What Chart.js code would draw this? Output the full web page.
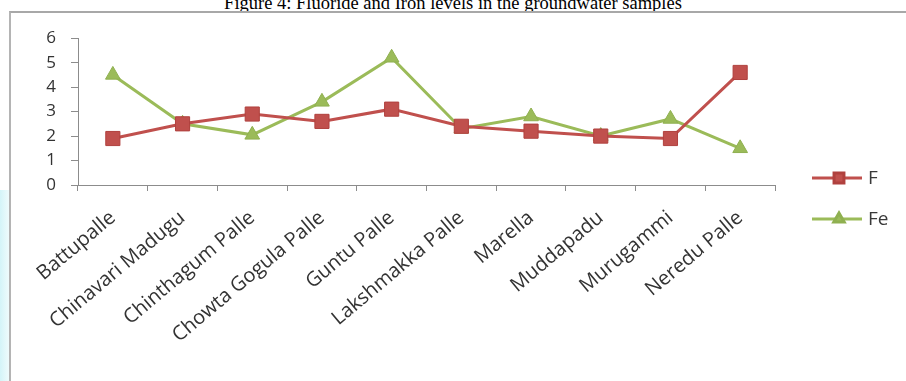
<!DOCTYPE html>
<html>
<head>
<meta charset="utf-8">
<script src="https://cdn.jsdelivr.net/npm/chart.js@4/dist/chart.umd.min.js"></script>
<style>
  html, body { margin: 0; padding: 0; background: #fff; overflow: hidden; }
  body { width: 906px; height: 381px; position: relative; }
  #title {
    position: absolute; left: 0; top: -7px; width: 906px;
    text-align: center; font: 18.5px/20px "Liberation Serif", serif; color: #000;
  }
  #frame {
    position: absolute; left: 9px; top: 11px; width: 900px; height: 372px;
    border-top: 2px solid #a8a8a8; border-left: 2px solid #b4b4b4;
    box-sizing: border-box; background: #fff;
  }
  #edge {
    position: absolute; left: 0; top: 190px; width: 9px; height: 191px;
    background: linear-gradient(to right, #d4f4f8, #effbfc);
  }
  #wrap { position: absolute; left: 11px; top: 13px; }
</style>
</head>
<body>
<div id="title">Figure 4: Fluoride and Iron levels in the groundwater samples</div>
<div id="frame"></div>
<div id="edge"></div>
<div id="wrap"><canvas id="chart" width="895" height="368"></canvas></div>
<script>
// sampling villages
const sites = ['Battupalle', 'Chinavari Madugu', 'Chinthagum Palle', 'Chowta Gogula Palle', 'Guntu Palle',
               'Lakshmakka Palle', 'Marella', 'Muddapadu', 'Murugammi', 'Neredu Palle'];
// fluoride (F) and iron (Fe) levels per site
const fluoride = [1.9, 2.5, 2.9, 2.6, 3.1, 2.4, 2.2, 2.0, 1.9, 4.6];
const iron = [4.5, 2.5, 2.05, 3.4, 5.2, 2.3, 2.8, 2.0, 2.7, 1.5];
// y axis range
const yTicks = [0, 1, 2, 3, 4, 5, 6];

const RED = '#C0504D';
const GREEN = '#9BBB59';
const AXIS = '#8c8c8c';
const FONT = '"Open Sans", sans-serif';

// legend drawn to the right of the plot: line with marker in the middle
const sideLegend = {
    id: 'sideLegend',
    afterDraw(chart) {
        const ctx = chart.ctx;
        const area = chart.chartArea;
        const x0 = area.right + 37;
        const mid = chart.height / 2 + 1.5;
        chart.data.datasets.forEach((ds, i) => {
            const y = mid + (i === 0 ? -20.5 : 20.5);
            ctx.save();
            ctx.strokeStyle = ds.borderColor;
            ctx.lineWidth = 3;
            ctx.beginPath();
            ctx.moveTo(x0, y);
            ctx.lineTo(x0 + 50, y);
            ctx.stroke();
            ctx.fillStyle = ds.pointBackgroundColor;
            ctx.strokeStyle = ds.pointBorderColor;
            Chart.helpers.drawPoint(ctx, {
                pointStyle: ds.pointStyle,
                radius: ds.pointStyle === 'rect' ? 7 : 6,
                rotation: 0,
                borderWidth: 1
            }, x0 + 27, y);
            ctx.fillStyle = '#3a3a3a';
            ctx.font = '19px ' + FONT;
            ctx.textBaseline = 'middle';
            ctx.textAlign = 'left';
            ctx.fillText(ds.label, x0 + 56, y + 1);
            ctx.restore();
        });
    }
};

new Chart(document.getElementById('chart'), {
    type: 'line',
    data: {
        labels: sites,
        datasets: [{
            label: 'F',
            data: fluoride,
            borderColor: RED,
            borderWidth: 3,
            pointStyle: 'rect',
            pointRadius: 10,
            pointBackgroundColor: RED,
            pointBorderColor: '#b0413e',
            pointBorderWidth: 1,
            tension: 0
        }, {
            label: 'Fe',
            data: iron,
            borderColor: GREEN,
            borderWidth: 3,
            pointStyle: 'triangle',
            pointRadius: 8.5,
            pointBackgroundColor: GREEN,
            pointBorderColor: '#8fb050',
            pointBorderWidth: 1,
            tension: 0
        }]
    },
    options: {
        responsive: false,
        animation: false,
        layout: { padding: { top: 22.5, right: 131, bottom: 0, left: 0 } },
        plugins: {
            legend: { display: false },
            tooltip: { enabled: false },
            title: { display: false }
        },
        scales: {
            x: {
                offset: true,
                grid: { offset: true, drawOnChartArea: false, drawTicks: true, tickLength: 6, color: AXIS },
                border: { color: AXIS },
                ticks: {
                    color: '#333',
                    font: { family: FONT, size: 20 },
                    minRotation: 40,
                    maxRotation: 40,
                    autoSkip: false,
                    padding: 15
                },
                afterFit(scale) { scale.height = 196; }
            },
            y: {
                min: yTicks[0],
                max: yTicks[yTicks.length - 1],
                afterBuildTicks(scale) { scale.ticks = yTicks.map(v => ({ value: v })); },
                grid: { drawOnChartArea: false, drawTicks: true, tickLength: 7, color: AXIS },
                border: { color: AXIS },
                ticks: {
                    color: '#333',
                    font: { family: FONT, size: 17 },
                    padding: 15
                },
                afterFit(scale) { scale.width = 67; }
            }
        }
    },
    plugins: [sideLegend]
});
</script>
</body>
</html>
